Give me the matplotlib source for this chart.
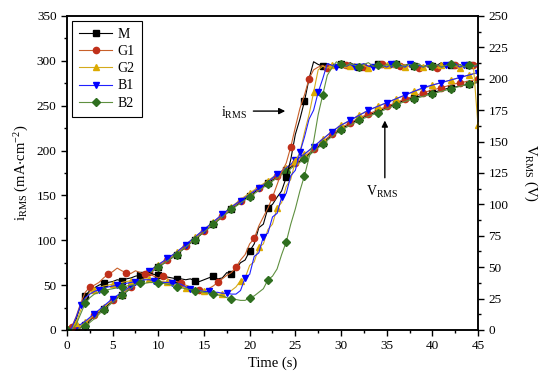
import numpy as np
import matplotlib
matplotlib.use('Agg')
import matplotlib.pyplot as plt
import matplotlib.ticker as ticker

plt.rcParams['font.family'] = ['Liberation Serif', 'DejaVu Serif']
plt.rcParams['mathtext.default'] = 'regular'

# current density i_RMS (mA/cm2), sampled every 0.5 s from 0 to 45 s
time_i = np.linspace(0, 45, 91)
i_M = [0, 2, 12, 28, 38, 44, 47, 50, 52, 53,
       54, 56, 55, 57, 58, 60, 61, 63, 64, 62,
       61, 60, 59, 58, 57, 57, 56, 57, 55, 54,
       56, 58, 60, 57, 58, 64, 62, 68, 75, 78,
       88, 96, 114, 118, 136, 140, 148, 155, 170, 190,
       218, 235, 255, 280, 299, 296, 294, 297, 295, 293,
       296, 294, 298, 295, 293, 296, 294, 295, 297, 293,
       295, 294, 296, 292, 295, 297, 294, 295, 293, 296,
       294, 295, 298, 293, 295, 294, 296, 293, 295, 297, 296]
i_G1 = [0, 3, 15, 30, 42, 48, 50, 53, 58, 62,
        65, 69, 66, 64, 63, 66, 64, 62, 63, 60,
        58, 60, 57, 55, 54, 52, 50, 48, 46, 45,
        44, 46, 49, 53, 57, 61, 64, 70, 78, 84,
        96, 102, 116, 126, 136, 148, 162, 176, 186, 204,
        226, 247, 262, 280, 290, 293, 295, 292, 294, 296,
        293, 295, 292, 296, 294, 293, 295, 292, 294, 296,
        293, 295, 292, 294, 296, 293, 294, 292, 295, 293,
        295, 292, 294, 296, 293, 295, 292, 294, 293, 295, 294]
i_G2 = [0, 0, 8, 22, 34, 42, 45, 47, 49, 50,
        51, 52, 53, 54, 55, 56, 56, 57, 57, 56,
        55, 54, 53, 51, 50, 48, 47, 46, 45, 44,
        43, 42, 41, 40, 40, 41, 44, 48, 55, 58,
        72, 76, 92, 96, 112, 118, 136, 142, 160, 168,
        188, 198, 220, 240, 265, 290, 294, 292, 295, 293,
        296, 292, 294, 297, 293, 295, 292, 294, 296, 293,
        295, 292, 294, 297, 293, 294, 292, 295, 293, 296,
        294, 292, 295, 293, 296, 294, 292, 295, 293, 294, 228]
i_B1 = [0, 2, 14, 28, 36, 40, 43, 45, 47, 48,
        49, 50, 51, 52, 53, 54, 55, 56, 56, 55,
        54, 53, 53, 52, 52, 51, 48, 46, 45, 44,
        43, 43, 42, 42, 41, 41, 40, 40, 44, 58,
        62, 82, 86, 104, 108, 126, 130, 148, 152, 172,
        178, 198, 215, 235, 245, 265, 280, 297, 295, 293,
        295, 294, 296, 293, 295, 297, 294, 293, 296, 295,
        293, 296, 294, 295, 293, 297, 294, 295, 293, 296,
        294, 296, 293, 295, 294, 297, 293, 295, 296, 294, 295]
i_B2 = [0, 0, 6, 18, 30, 36, 40, 42, 44, 45,
        46, 47, 48, 49, 50, 51, 52, 52, 53, 53,
        52, 52, 51, 50, 48, 47, 46, 45, 44, 43,
        42, 41, 40, 39, 38, 36, 35, 34, 33, 33,
        36, 38, 42, 46, 56, 60, 68, 84, 98, 118,
        135, 155, 172, 192, 210, 240, 262, 284, 292, 299,
        296, 294, 297, 295, 293, 296, 298, 294, 295, 293,
        296, 294, 297, 293, 295, 296, 294, 297, 293, 295,
        294, 296, 293, 295, 297, 294, 296, 293, 295, 294, 296]

# voltage V_RMS (V), sampled every 1 s
time_v = np.linspace(0, 45, 46)
v_M = [0, 0, 4, 11, 17, 23, 28, 33, 39, 45, 50, 55, 60, 66, 72, 78, 84, 90, 96, 102,
       107, 112, 117, 122, 127, 132, 137, 143, 149, 155, 160, 164, 168, 171, 174, 177,
       180, 183, 185, 187, 189, 191, 193, 194, 196, 197]
v_G1 = [0, 0, 5, 12, 18, 24, 29, 34, 40, 46, 51, 56, 61, 67, 73, 79, 85, 91, 97, 103,
        108, 113, 118, 123, 128, 133, 138, 144, 150, 156, 161, 165, 169, 172, 175, 178,
        181, 184, 186, 189, 191, 193, 195, 197, 198, 200]
v_G2 = [0, 1, 6, 12, 18, 24, 29, 35, 41, 47, 52, 57, 62, 68, 74, 80, 86, 92, 98, 104,
        109, 114, 119, 124, 129, 134, 140, 146, 152, 158, 163, 167, 171, 175, 178, 181,
        184, 187, 190, 192, 195, 197, 199, 201, 203, 205]
v_B1 = [0, 2, 7, 13, 19, 25, 30, 35, 41, 47, 52, 57, 62, 68, 74, 80, 86, 92, 98, 103,
        108, 113, 118, 124, 129, 135, 140, 146, 152, 158, 163, 167, 171, 175, 178, 181,
        184, 187, 190, 193, 195, 197, 199, 201, 203, 205]
v_B2 = [0, 0, 3, 9, 16, 22, 28, 33, 39, 45, 50, 55, 60, 66, 72, 78, 84, 90, 96, 101,
        106, 111, 116, 121, 126, 131, 136, 142, 148, 154, 159, 163, 167, 170, 173, 176,
        179, 182, 184, 186, 188, 190, 192, 194, 196, 198]

labels = ['M', 'G1', 'G2', 'B1', 'B2']
currents = [i_M, i_G1, i_G2, i_B1, i_B2]
voltages = [v_M, v_G1, v_G2, v_B1, v_B2]
line_colors = ['black', '#c8602a', '#d4aa1c', '#2020ff', '#5f9040']
marker_colors = ['black', '#c0301a', '#dcaa00', '#0000ff', '#2f6f1f']
markers = ['s', 'o', '^', 'v', 'D']
msizes = [4, 4.5, 4.5, 4.5, 4]

fig = plt.figure(figsize=(5.5, 3.8), dpi=100)
ax = fig.add_axes([0.1218, 0.1316, 0.7473, 0.8263])
ax2 = ax.twinx()

for k in range(5):
    ax.plot(time_i, currents[k], color=line_colors[k], lw=0.8,
            marker=markers[k], ms=msizes[k], mfc=marker_colors[k], mec=marker_colors[k],
            markevery=(k % 4, 4), label=labels[k])
    ax2.plot(time_v, voltages[k], color=line_colors[k], lw=0.8,
             marker=markers[k], ms=msizes[k], mfc=marker_colors[k], mec=marker_colors[k],
             markevery=(k % 2, 2))

ax.set_xlim(0, 45)
ax.set_ylim(0, 350)
ax2.set_ylim(0, 250)

ax.xaxis.set_major_locator(ticker.MultipleLocator(5))
ax.xaxis.set_minor_locator(ticker.MultipleLocator(2.5))
ax.yaxis.set_major_locator(ticker.MultipleLocator(50))
ax.yaxis.set_minor_locator(ticker.MultipleLocator(25))
ax2.yaxis.set_major_locator(ticker.MultipleLocator(25))
ax2.yaxis.set_minor_locator(ticker.MultipleLocator(12.5))

ax.tick_params(which='both', direction='out', labelsize=9.5, top=False, right=False)
ax.tick_params(which='major', length=4, width=1)
ax.tick_params(which='minor', length=2.5, width=1)
ax2.tick_params(which='both', direction='out', labelsize=9.5)
ax2.tick_params(which='major', length=4, width=1)
ax2.tick_params(which='minor', length=2.5, width=1)
for sp in ax.spines.values():
    sp.set_linewidth(1.1)
for sp in ax2.spines.values():
    sp.set_linewidth(1.1)

ax.set_xlabel('Time (s)', fontsize=10.5, labelpad=3)
ax.set_ylabel(r'i$_{RMS}$ (mA$\cdot$cm$^{-2}$)', fontsize=10.5, labelpad=4)
ax2.set_ylabel(r'V$_{RMS}$ (V)', fontsize=10.5, rotation=270, labelpad=22)

# annotations
ax.annotate('', xy=(24.2, 244), xytext=(20.1, 244),
            arrowprops=dict(arrowstyle='-|>', color='black', lw=1, mutation_scale=9))
ax.text(18.3, 242, r'i$_{RMS}$', fontsize=10, ha='center', va='center')
ax2.annotate('', xy=(34.8, 169), xytext=(34.8, 119),
             arrowprops=dict(arrowstyle='-|>', color='black', lw=1, mutation_scale=9))
ax2.text(34.5, 110, r'V$_{RMS}$', fontsize=10, ha='center', va='center')

leg = ax.legend(loc='upper left', bbox_to_anchor=(0.012, 0.984), borderaxespad=0,
                fontsize=10, labelspacing=0.3, handlelength=2.4, handletextpad=0.4,
                borderpad=0.5, fancybox=False, framealpha=1, edgecolor='black', numpoints=1)
leg.get_frame().set_linewidth(0.8)
ax.set_zorder(ax2.get_zorder() + 1)
ax.patch.set_visible(False)

fig.savefig('out.png', dpi=100)
